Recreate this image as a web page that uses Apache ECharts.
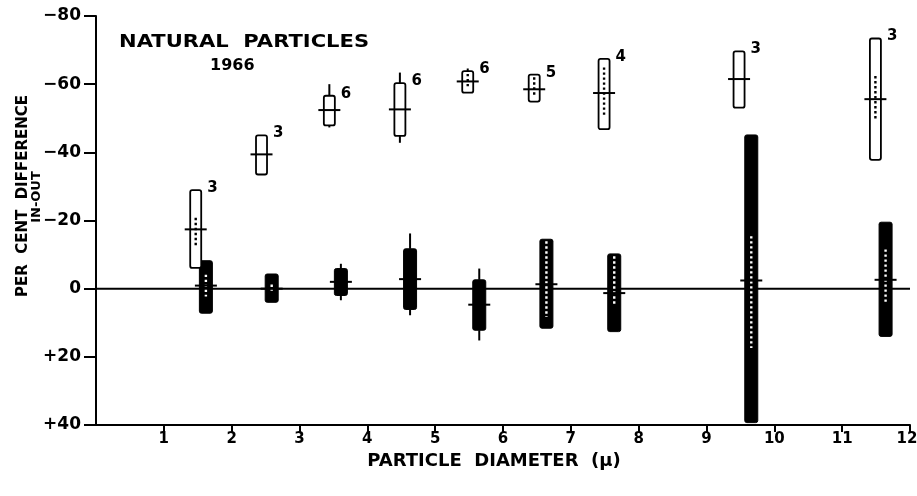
<!DOCTYPE html>
<html>
<head>
<meta charset="utf-8">
<script src="https://cdn.jsdelivr.net/npm/echarts@6/dist/echarts.min.js"></script>
<style>
html,body{margin:0;padding:0;background:#fff;}
#chart{width:917px;height:496px;}
</style>
</head>
<body>
<div id="chart"></div>
<script>
// ---- data ----
const titleText = 'NATURAL  PARTICLES';
const yearText = '1966';
const xAxisTitle = 'PARTICLE  DIAMETER  (\u03bc)';
const yAxisTitle1 = 'PER  CENT  DIFFERENCE';
const yAxisTitle2 = 'IN-OUT';
const xTicks = [1, 2, 3, 4, 5, 6, 7, 8, 9, 10, 11, 12];
const yTicks = [-80, -60, -40, -20, 0, 20, 40];

// open boxes (natural particles, upper group)
const whiteX = [1.47, 2.44, 3.44, 4.48, 5.48, 6.46, 7.49, 9.48, 11.49];
const whiteTop = [-28.9, -45.0, -56.6, -60.3, -63.8, -62.8, -67.4, -69.6, -73.4];
const whiteBottom = [-6.1, -33.5, -47.9, -44.8, -57.5, -54.9, -46.8, -53.1, -37.8];
const whiteMean = [-17.4, -39.4, -52.4, -52.6, -60.8, -58.5, -57.4, -61.5, -55.6];
const whiteWhiskerTop = [null, null, -60.0, -63.4, -64.6, null, null, null, null];
const whiteWhiskerBottom = [null, null, -47.3, -42.8, null, null, null, null, null];
const whiteDotTop = [-20.8, null, null, null, -63.0, -62.0, -64.9, null, -62.4];
const whiteDotBottom = [-12.6, null, null, null, -59.0, -56.4, -50.7, null, -49.9];
const sampleCounts = ['3', '3', '6', '6', '6', '5', '4', '3', '3'];

// filled bars (lower group)
const blackX = [1.62, 2.59, 3.61, 4.63, 5.65, 6.64, 7.64, 9.66, 11.64];
const blackTop = [-8.2, -4.3, -5.9, -11.7, -2.6, -14.5, -10.2, -45.1, -19.5];
const blackBottom = [7.2, 4.0, 2.0, 6.1, 12.2, 11.6, 12.6, 39.3, 14.0];
const blackMean = [-0.9, 0.0, -2.0, -2.8, 4.7, -1.3, 1.3, -2.4, -2.6];
const blackWhiskerTop = [null, null, -7.3, -16.2, -5.9, null, null, null, null];
const blackWhiskerBottom = [null, null, 3.4, 7.8, 15.2, null, null, null, null];
const blackDotTop = [-4.1, -1.2, null, null, null, -13.9, -9.5, -15.4, -11.5];
const blackDotBottom = [2.3, 0.6, null, null, null, 8.3, 4.4, 17.4, 4.2];

// ---- drawing ----
const FONT = 'DejaVu Sans';
const chart = echarts.init(document.getElementById('chart'), null, {renderer: 'canvas'});

function boxRenderer(cfg) {
  return function (params, api) {
    const i = params.dataIndex;
    const x = api.value(0);
    const pTop = api.coord([x, cfg.top[i]]);
    const pBot = api.coord([x, cfg.bottom[i]]);
    const cx = pTop[0];
    const w = cfg.width;
    const children = [];
    const wt = cfg.wTop[i], wb = cfg.wBottom[i];
    if (wt != null) {
      const p = api.coord([x, wt]);
      children.push({type: 'line', shape: {x1: cx, y1: p[1], x2: cx, y2: pTop[1]},
        style: {stroke: '#000', lineWidth: 2}});
    }
    if (wb != null) {
      const p = api.coord([x, wb]);
      children.push({type: 'line', shape: {x1: cx, y1: pBot[1], x2: cx, y2: p[1]},
        style: {stroke: '#000', lineWidth: 2}});
    }
    children.push({type: 'rect',
      shape: {x: cx - w / 2, y: pTop[1], width: w, height: pBot[1] - pTop[1], r: 2},
      style: {fill: cfg.fill, stroke: '#000', lineWidth: cfg.stroke}});
    const dt = cfg.dTop[i], db = cfg.dBottom[i];
    if (dt != null && db != null) {
      const a = api.coord([x, dt]), b = api.coord([x, db]);
      children.push({type: 'line', shape: {x1: cx, y1: a[1], x2: cx, y2: b[1]},
        style: {stroke: cfg.dotColor, lineWidth: 2.4, lineDash: [2.4, 2.6]}});
    }
    const m = api.coord([x, cfg.mean[i]]);
    children.push({type: 'line', shape: {x1: cx - 11, y1: m[1], x2: cx + 11, y2: m[1]},
      style: {stroke: '#000', lineWidth: 2}});
    if (cfg.labels) {
      children.push({type: 'text', x: cx + w / 2 + 6, y: pTop[1] - 2,
        style: {text: cfg.labels[i], fill: '#000', font: 'bold 15px "' + FONT + '"',
          textAlign: 'left', textVerticalAlign: 'middle'}});
    }
    return {type: 'group', children: children};
  };
}

const tickFont = {color: '#000', fontFamily: FONT, fontWeight: 'bold', fontSize: 15};

const option = {
  backgroundColor: '#fff',
  animation: false,
  grid: {left: 96, right: 7, top: 16, bottom: 71, outerBoundsMode: 'none', containLabel: false},
  xAxis: {
    type: 'value', min: 0, max: 12, interval: 1,
    name: xAxisTitle, nameLocation: 'middle', nameGap: 26,
    nameTextStyle: {color: '#000', fontFamily: FONT, fontWeight: 'bold', fontSize: 18, padding: [0, 18, 0, 0]},
    axisLine: {onZero: false, lineStyle: {color: '#000', width: 2}},
    axisTick: {length: 7, customValues: xTicks, lineStyle: {color: '#000', width: 2}},
    axisLabel: Object.assign({margin: 7, customValues: xTicks,
      formatter: v => (v === xTicks[xTicks.length - 1] ? '{e|' + v + '}' : String(v)),
      rich: {e: Object.assign({padding: [0, 6, 0, 0]}, tickFont)}}, tickFont),
    splitLine: {show: false}
  },
  yAxis: {
    type: 'value', inverse: true, min: -80, max: 40, interval: 20,
    axisLine: {onZero: false, lineStyle: {color: '#000', width: 2}},
    axisTick: {length: 12, lineStyle: {color: '#000', width: 2}},
    axisLabel: {color: '#000', fontFamily: FONT, fontWeight: 'bold', fontSize: 17, margin: 15,
      formatter: v => (yTicks.indexOf(v) < 0 ? '' : v > 0 ? '+' + v : v < 0 ? '\u2212' + (-v) : '0')},
    splitLine: {show: false}
  },
  graphic: [
    {type: 'text', x: 119, y: 42, scaleX: 1.17,
      style: {text: titleText, fill: '#000', font: 'bold 18px "' + FONT + '"',
        textAlign: 'left', textVerticalAlign: 'middle'}},
    {type: 'text', left: 210, top: 58,
      style: {text: yearText, fill: '#000', font: 'bold 16px "' + FONT + '"'}},
    {type: 'text', x: 23, y: 196, rotation: Math.PI / 2,
      style: {text: yAxisTitle1, fill: '#000', font: 'bold 15px "' + FONT + '"',
        textAlign: 'center', textVerticalAlign: 'middle'}},
    {type: 'text', x: 37, y: 197, rotation: Math.PI / 2,
      style: {text: yAxisTitle2, fill: '#000', font: 'bold 13px "' + FONT + '"',
        textAlign: 'center', textVerticalAlign: 'middle'}}
  ],
  series: [
    {type: 'line', data: [[0, 0], [12, 0]], symbol: 'none', z: 1,
      lineStyle: {color: '#000', width: 2}, silent: true},
    {type: 'custom', z: 3,
      data: blackX.map((x, i) => [x, blackTop[i], blackBottom[i]]),
      encode: {x: 0, y: [1, 2]},
      renderItem: boxRenderer({top: blackTop, bottom: blackBottom, mean: blackMean,
        wTop: blackWhiskerTop, wBottom: blackWhiskerBottom, dTop: blackDotTop, dBottom: blackDotBottom,
        width: 13, fill: '#000', stroke: 1, dotColor: '#fff'})},
    {type: 'custom', z: 4,
      data: whiteX.map((x, i) => [x, whiteTop[i], whiteBottom[i]]),
      encode: {x: 0, y: [1, 2]},
      renderItem: boxRenderer({top: whiteTop, bottom: whiteBottom, mean: whiteMean,
        wTop: whiteWhiskerTop, wBottom: whiteWhiskerBottom, dTop: whiteDotTop, dBottom: whiteDotBottom,
        width: 11, fill: '#fff', stroke: 1.8, dotColor: '#000', labels: sampleCounts})}
  ]
};
chart.setOption(option);
</script>
</body>
</html>
